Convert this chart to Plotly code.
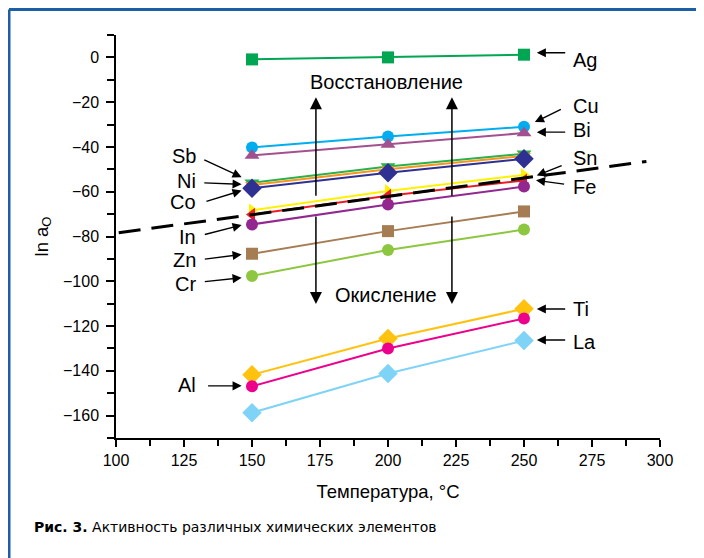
import plotly.graph_objects as go

temps = [150, 200, 250]

elements = ["Ag", "Cu", "Bi", "Sb", "Ni", "Co", "Sn", "Fe", "In", "Zn", "Cr", "Ti", "Al", "La"]
ag = [-0.9, 0.0, 1.2]
cu = [-40.2, -35.3, -31.0]
bi = [-43.8, -38.9, -33.8]
sb = [-56.0, -48.7, -43.0]
ni = [-57.0, -50.0, -44.0]
co = [-58.4, -51.5, -45.3]
sn = [-68.3, -59.7, -52.5]
fe = [-70.2, -61.8, -55.0]
in_ = [-74.6, -65.7, -57.7]
zn = [-87.7, -77.6, -68.8]
cr = [-97.6, -86.0, -76.9]
ti = [-141.8, -125.6, -112.3]
al = [-146.9, -130.0, -116.6]
la = [-158.7, -141.2, -126.5]

boundary_x = [101, 295]
boundary_y = [-78.3, -46.5]

x_ticks = [100, 125, 150, 175, 200, 225, 250, 275, 300]
y_ticks = [0, -20, -40, -60, -80, -100, -120, -140, -160]

series = [
    ("Ag", ag, "#00a651", "square", 12),
    ("Cu", cu, "#00aeef", "circle", 12),
    ("Bi", bi, "#a3508f", "triangle-up", 13),
    ("Sb", sb, "#2bb04a", "triangle-down", 13),
    ("Ni", ni, "#f7941d", "triangle-down", 12),
    ("Co", co, "#2e3192", "diamond", 15),
    ("Sn", sn, "#fff200", "triangle-right", 12),
    ("Fe", fe, "#ed1c24", "triangle-left", 12),
    ("In", in_, "#92278f", "circle", 12),
    ("Zn", zn, "#a67c52", "square", 12),
    ("Cr", cr, "#8dc63f", "circle", 12),
    ("Ti", ti, "#ffc20e", "diamond", 15),
    ("Al", al, "#ec008c", "circle", 12),
    ("La", la, "#7fd3f7", "diamond", 15),
]

FONT = "Liberation Sans, Arial, sans-serif"

fig = go.Figure()
for name, vals, color, sym, size in series:
    fig.add_trace(go.Scatter(
        x=temps, y=vals, name=name, mode="lines+markers",
        line=dict(color=color, width=2),
        marker=dict(color=color, symbol=sym, size=size, line=dict(width=0)),
        showlegend=False, hoverinfo="skip"))
    if name == "Fe":
        fig.add_trace(go.Scatter(
            x=boundary_x, y=boundary_y, mode="lines",
            line=dict(color="black", width=3, dash="22px,11px"),
            showlegend=False, hoverinfo="skip"))

annotations = []
# (text, label_y, tail_x, tail_y, head_x, head_y)
left_labels = [
    ("Sb", -44.0, 131.9, -45.5, 146.2, -53.5),
    ("Ni", -55.2, 131.9, -56.0, 146.2, -56.7),
    ("Co", -64.6, 132.7, -64.5, 146.2, -59.5),
    ("In", -80.2, 132.1, -79.3, 146.2, -74.9),
    ("Zn", -90.5, 132.1, -90.2, 146.2, -88.0),
    ("Cr", -101.2, 132.1, -100.2, 146.2, -98.4),
    ("Al", -146.3, 133.3, -146.7, 146.2, -146.7),
]
right_labels = [
    ("Ag", -1.1, 265.7, 2.1, 254.7, 2.1),
    ("Cu", -21.8, 264.1, -22.9, 254.0, -28.9),
    ("Bi", -32.5, 265.7, -33.4, 254.7, -33.4),
    ("Sn", -45.1, 264.4, -48.1, 254.7, -52.8),
    ("Fe", -57.8, 265.3, -56.7, 254.4, -54.9),
    ("Ti", -112.2, 265.7, -112.4, 254.7, -112.4),
    ("La", -127.2, 265.7, -126.2, 254.7, -126.2),
]
label_font = dict(family=FONT, size=20, color="black")
for txt, ly, tx, ty, hx, hy in left_labels:
    annotations.append(dict(x=130.3, y=ly, text=txt, showarrow=False,
                            xanchor="right", yanchor="middle", font=label_font))
    annotations.append(dict(x=hx, y=hy, ax=tx, ay=ty, axref="x", ayref="y",
                            text="", showarrow=True, arrowhead=2, arrowsize=1.3,
                            arrowwidth=1.4, arrowcolor="black"))
for txt, ly, tx, ty, hx, hy in right_labels:
    annotations.append(dict(x=267.4, y=ly, text=txt, showarrow=False,
                            xanchor="left", yanchor="middle", font=label_font))
    annotations.append(dict(x=hx, y=hy, ax=tx, ay=ty, axref="x", ayref="y",
                            text="", showarrow=True, arrowhead=2, arrowsize=1.3,
                            arrowwidth=1.4, arrowcolor="black"))

for ax_x in [173.5, 223.5]:
    annotations.append(dict(x=ax_x, y=-17.8, ax=ax_x, ay=-62.5, axref="x", ayref="y",
                            text="", showarrow=True, arrowhead=2, arrowsize=1.6,
                            arrowwidth=1.5, arrowcolor="black"))
    annotations.append(dict(x=ax_x, y=-110.2, ax=ax_x, ay=-70.4, axref="x", ayref="y",
                            text="", showarrow=True, arrowhead=2, arrowsize=1.6,
                            arrowwidth=1.5, arrowcolor="black"))

annotations.append(dict(x=199.3, y=-11.0, text="Восстановление", showarrow=False,
                        xanchor="center", yanchor="middle", font=label_font))
annotations.append(dict(x=199.3, y=-106.0, text="Окисление", showarrow=False,
                        xanchor="center", yanchor="middle", font=label_font))

# caption (paper coords relative to plot area at page x 116..660, y 35..438)
annotations.append(dict(xref="paper", yref="paper", x=(32 - 116) / 544, y=(438 - 527) / 403,
                        text="<b>Рис. 3.</b> Активность различных химических элементов",
                        showarrow=False, xanchor="left", yanchor="middle",
                        font=dict(family="DejaVu Sans, sans-serif", size=14, color="black")))

frame_x = (9 - 116) / 544
frame_y = (438 - 9.5) / 403
shapes = [
    dict(type="line", xref="paper", yref="paper",
         x0=frame_x, x1=frame_x, y0=frame_y, y1=(438 - 620) / 403,
         line=dict(color="#1d5fa6", width=3)),
    dict(type="line", xref="paper", yref="paper",
         x0=frame_x, x1=(780 - 116) / 544, y0=frame_y, y1=frame_y,
         line=dict(color="#1d5fa6", width=3)),
]

fig.update_layout(
    width=704, height=558,
    margin=dict(l=108, r=52, t=27, b=128),
    paper_bgcolor="white", plot_bgcolor="white",
    font=dict(family=FONT, size=15, color="black"),
    annotations=annotations, shapes=shapes,
    xaxis=dict(range=[100, 300], tickvals=x_ticks, ticktext=[str(v) for v in x_ticks],
               showgrid=False, zeroline=False, showline=True, linecolor="black", linewidth=1.5,
               ticks="outside", ticklen=7, tickwidth=1.5, tickcolor="black",
               minor=dict(dtick=12.5, tick0=100, ticks="outside", ticklen=6, tickwidth=1.5, tickcolor="black"),
               tickfont=dict(size=16),
               title=dict(text="Температура, °C", font=dict(size=18.5), standoff=17)),
    yaxis=dict(range=[-170, 10], tickvals=y_ticks,
               ticktext=[("\u2212" + str(-v)) if v < 0 else str(v) for v in y_ticks],
               showgrid=False, zeroline=False, showline=True, linecolor="black", linewidth=1.5,
               ticks="outside", ticklen=8, tickwidth=1.5, tickcolor="black",
               minor=dict(dtick=10, tick0=0, ticks="outside", ticklen=7, tickwidth=1.5, tickcolor="black"),
               tickfont=dict(size=16), ticklabelstandoff=4,
               title=dict(text="ln a<sub>O</sub>", font=dict(size=18.5), standoff=10)),
)

fig.write_html("out.html")
